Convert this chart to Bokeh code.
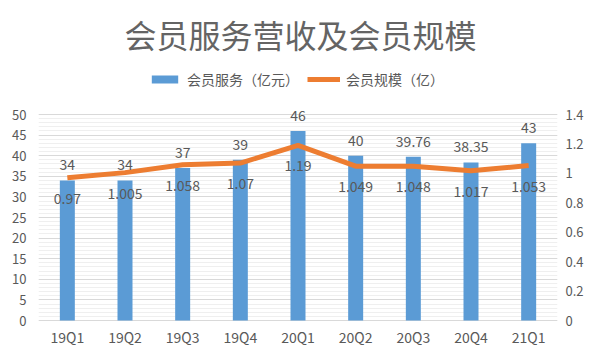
from bokeh.plotting import figure
from bokeh.models import (ColumnDataSource, Range1d, LinearAxis, FixedTicker,
                          LabelSet, Label, Legend, LegendItem, NumeralTickFormatter, FactorRange)
from bokeh.core.properties import value
from bokeh.embed import file_html
from bokeh.resources import INLINE

quarters = ["19Q1", "19Q2", "19Q3", "19Q4", "20Q1", "20Q2", "20Q3", "20Q4", "21Q1"]
revenue = [34, 34, 37, 39, 46, 40, 39.76, 38.35, 43]
revenue_labels = ["34", "34", "37", "39", "46", "40", "39.76", "38.35", "43"]
members = [0.97, 1.005, 1.058, 1.07, 1.19, 1.049, 1.048, 1.017, 1.053]
member_labels = ["0.97", "1.005", "1.058", "1.07", "1.19", "1.049", "1.048", "1.017", "1.053"]
left_ticks = [0, 5, 10, 15, 20, 25, 30, 35, 40, 45, 50]
left_minor = list(range(0, 51))
right_ticks = [0, 0.2, 0.4, 0.6, 0.8, 1.0, 1.2, 1.4]

title_text = "会员服务营收及会员规模"
bar_name = "会员服务（亿元）"
line_name = "会员规模（亿）"

FONT = "Noto Sans CJK SC"
TXT = "#595959"
BLUE = "#5B9BD5"
ORANGE = "#ED7D31"

# layout (pixels): the frame fills the full height; the value axis spans AXIS_TOP..AXIS_BOTTOM
W, H = 586, 346
AXIS_TOP, AXIS_BOTTOM = 114, 320
span = AXIS_BOTTOM - AXIS_TOP


def stretched(vmax):
    per_px = vmax / span
    return Range1d(-(H - AXIS_BOTTOM) * per_px, vmax + AXIS_TOP * per_px)


src = ColumnDataSource(dict(q=quarters, rev=revenue, rev_lbl=revenue_labels,
                            mem=members, mem_lbl=member_labels, zero=[0] * len(quarters)))

p = figure(width=W, height=H, x_range=FactorRange(*quarters),
           y_range=stretched(left_ticks[-1]), title=None,
           output_backend="svg", toolbar_location=None,
           min_border_left=38, min_border_right=26, min_border_top=0, min_border_bottom=0)
p.extra_y_ranges = {"r": stretched(right_ticks[-1])}
p.outline_line_color = None
p.background_fill_color = "white"
p.border_fill_color = "white"

bars = p.vbar(x="q", top="rev", width=0.26, source=src, fill_color=BLUE, line_color=None)
ln = p.line(x="q", y="mem", source=src, y_range_name="r", line_color=ORANGE,
            line_width=5, line_join="round")

# grid
p.xgrid.grid_line_color = None
p.ygrid.grid_line_color = "#D9D9D9"
p.ygrid.minor_grid_line_color = "#EFEFEF"

# left axis
yax = p.yaxis[0]
yax.ticker = FixedTicker(ticks=left_ticks, minor_ticks=left_minor)
yax.axis_line_color = None
yax.major_tick_line_color = None
yax.minor_tick_line_color = None
yax.major_tick_out = 0
yax.major_tick_in = 0
yax.minor_tick_out = 0
yax.major_label_text_font = FONT
yax.major_label_text_font_size = "13px"
yax.major_label_text_color = TXT
yax.major_label_standoff = 12

# right axis
rax = LinearAxis(y_range_name="r", ticker=FixedTicker(ticks=right_ticks),
                 formatter=NumeralTickFormatter(format="0.[0]"))
rax.axis_line_color = None
rax.major_tick_line_color = None
rax.minor_tick_line_color = None
rax.major_tick_out = 0
rax.major_tick_in = 0
rax.minor_tick_out = 0
rax.major_label_text_font = FONT
rax.major_label_text_font_size = "13px"
rax.major_label_text_color = TXT
rax.major_label_standoff = 8
p.add_layout(rax, "right")

# category axis drawn as labels under the zero line
p.xaxis.visible = False
p.add_layout(LabelSet(x="q", y="zero", text="q", source=src, text_align="center",
                      text_baseline="alphabetic", y_offset=-22, text_font=value(FONT),
                      text_font_size="14px", text_color=TXT))

# value labels
p.add_layout(LabelSet(x="q", y="rev", text="rev_lbl", source=src, text_align="center",
                      text_baseline="bottom", y_offset=10, text_font=value(FONT),
                      text_font_size="14px", text_color=TXT))
p.add_layout(LabelSet(x="q", y="mem", text="mem_lbl", source=src, y_range_name="r",
                      text_align="center", text_baseline="top", y_offset=-15,
                      text_font=value(FONT), text_font_size="14px", text_color=TXT))

# title
p.add_layout(Label(x=300 - 38, y=H - 33, x_units="screen", y_units="screen", text=title_text,
                   text_align="center", text_baseline="middle", text_font=FONT,
                   text_font_size="32px", text_color="#646464"))

legend = Legend(items=[LegendItem(label=bar_name, renderers=[bars]),
                       LegendItem(label=line_name, renderers=[ln])],
                orientation="horizontal", location=(148 - 38, H - 89))
legend.border_line_color = None
legend.background_fill_alpha = 0
legend.label_text_font = FONT
legend.label_text_font_size = "14px"
legend.label_text_color = TXT
legend.glyph_width = 33
legend.glyph_height = 10
legend.label_height = 14
legend.spacing = 8
legend.label_standoff = 6
legend.padding = 0
legend.margin = 0
p.add_layout(legend, "center")

open("out.html", "w").write(file_html(p, INLINE))
